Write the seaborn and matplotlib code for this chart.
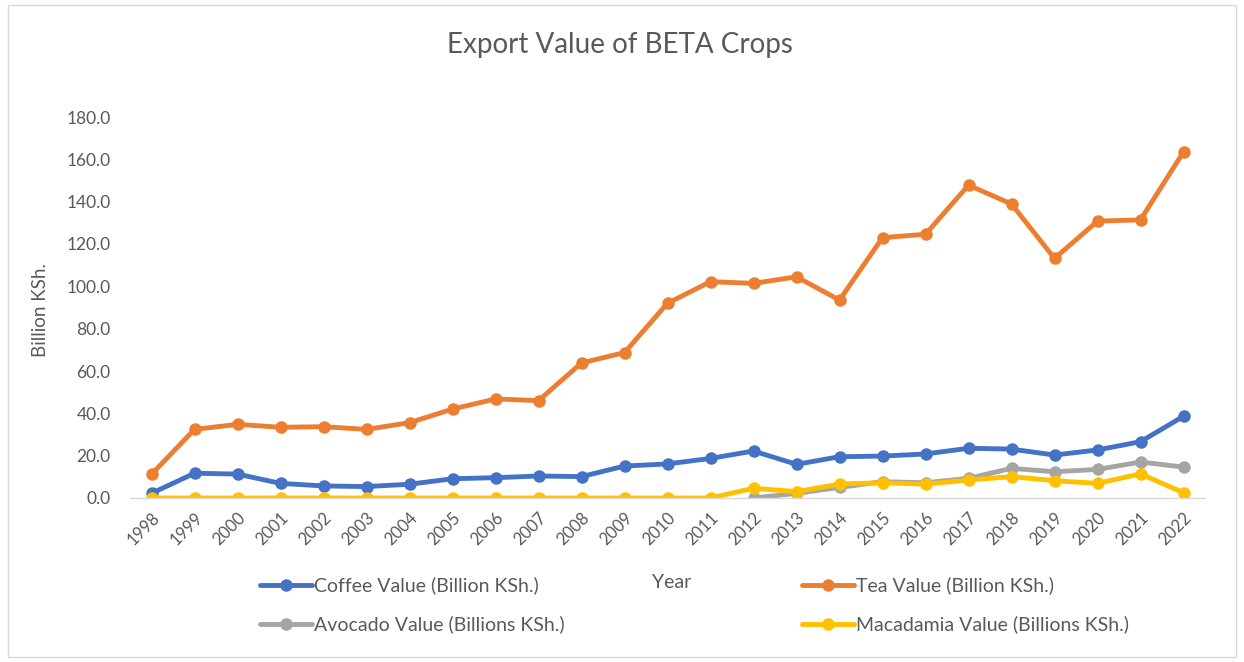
import numpy as np
import pandas as pd
import matplotlib
matplotlib.use("Agg")
import matplotlib.pyplot as plt
import seaborn as sns
from matplotlib.patches import Rectangle

years = list(range(1998, 2023))
coffee = [2.2, 11.7, 11.3, 6.9, 5.7, 5.4, 6.5, 9.1, 9.6, 10.4, 10.1, 15.1, 16.1,
          18.7, 22.2, 15.9, 19.5, 19.8, 20.8, 23.5, 23.1, 20.3, 22.7, 26.6, 38.6]
tea = [11.2, 32.4, 34.8, 33.4, 33.7, 32.4, 35.6, 42.0, 46.8, 46.0, 63.8, 68.7, 92.0,
       102.2, 101.4, 104.5, 93.5, 123.0, 124.6, 147.8, 138.9, 113.2, 130.8, 131.4, 163.5]
avocado = [np.nan] * 14 + [0.0, 2.2, 5.0, 7.7, 7.2, 9.3, 14.0, 12.4, 13.5, 17.0, 14.6]
macadamia = [0.0] * 14 + [4.6, 3.0, 6.6, 7.2, 6.5, 8.5, 10.1, 8.2, 6.9, 11.4, 2.5]

series_names = ["Coffee Value (Billion KSh.)", "Tea Value (Billion KSh.)",
                "Avocado Value (Billions KSh.)", "Macadamia Value (Billions KSh.)"]
series_values = [coffee, tea, avocado, macadamia]
colors = ["#4472C4", "#ED7D31", "#A5A5A5", "#FFC000"]

df = pd.concat([pd.DataFrame({"Year": years, "Value": v, "Series": n})
                for n, v in zip(series_names, series_values)], ignore_index=True)

sns.set_theme(style="white")
plt.rcParams["font.family"] = ["Lato", "DejaVu Sans"]
text_color = "#595959"

fig = plt.figure(figsize=(12.44, 6.62), dpi=100)
fig.patch.set_facecolor("white")
ax = fig.add_axes([130 / 1244, 1 - 498 / 662, (1205 - 130) / 1244, (498 - 117) / 662])

sns.lineplot(data=df, x="Year", y="Value", hue="Series", hue_order=series_names,
             palette=colors, marker="o", markersize=9, markeredgewidth=0,
             linewidth=3.5, ax=ax, legend=True)

ax.set_xlim(1997.5, 2022.5)
ax.set_ylim(0, 180)
ax.set_yticks(np.arange(0, 181, 20))
ax.set_yticklabels([f"{v:.1f}" for v in np.arange(0, 181, 20)], color=text_color, fontsize=12.5)
ax.set_xticks(years)
ax.set_xticklabels([str(y) for y in years], rotation=45, ha="right",
                   rotation_mode="anchor", color=text_color, fontsize=12)
ax.tick_params(axis="both", length=0)
ax.tick_params(axis="x", pad=8)
ax.tick_params(axis="y", pad=14)
for s in ["top", "right", "left"]:
    ax.spines[s].set_visible(False)
ax.spines["bottom"].set_color("#D9D9D9")
ax.spines["bottom"].set_linewidth(1.0)
ax.grid(False)

ax.set_xlabel("")
ax.set_ylabel("")
fig.text(40 / 1244, 1 - 310 / 662, "Billion KSh.", rotation=90, ha="center", va="center",
         color=text_color, fontsize=13.5)
fig.text(672 / 1244, 1 - 582 / 662, "Year", ha="center", va="center",
         color=text_color, fontsize=14)
fig.text(620 / 1244, 1 - 45 / 662, "Export Value of BETA Crops", ha="center", va="center",
         color=text_color, fontsize=20)

handles, labels = ax.get_legend_handles_labels()
ax.get_legend().remove()
order = [0, 2, 1, 3]  # row-wise: Coffee, Tea / Avocado, Macadamia
for h in handles:
    h.set_markersize(9)
    h.set_linewidth(3.5)
leg = fig.legend([handles[i] for i in order], [labels[i] for i in order], ncol=2,
                 loc="center left", bbox_to_anchor=(242 / 1244, 1 - 605 / 662),
                 frameon=False, fontsize=14, labelcolor=text_color, handlelength=2.7,
                 handletextpad=0.1, columnspacing=12.2, labelspacing=1.1)

fig.patches.append(Rectangle((8 / 1244, 5 / 662), (1236 - 8) / 1244, (657 - 5) / 662,
                             transform=fig.transFigure, fill=False,
                             edgecolor="#D9D9D9", linewidth=1.0))

fig.savefig("out.png", dpi=100, facecolor="white")
